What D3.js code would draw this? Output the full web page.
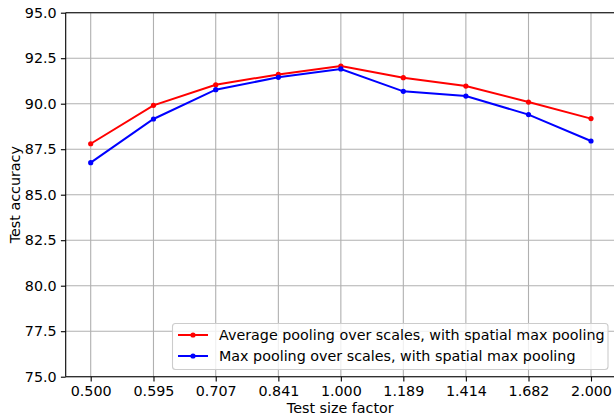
<!DOCTYPE html>
<html><head><meta charset="utf-8">
<script src="https://cdn.jsdelivr.net/npm/d3@7"></script>
<style>body{margin:0;background:#fff}svg{display:block;font-family:"DejaVu Sans",sans-serif}</style>
</head><body>
<svg id="c" width="614" height="416"></svg>
<script>
const factors = [0.5, 0.595, 0.707, 0.841, 1.0, 1.189, 1.414, 1.682, 2.0];
const tickLabels = ["0.500","0.595","0.707","0.841","1.000","1.189","1.414","1.682","2.000"];
const avgPool = [87.80, 89.91, 91.04, 91.61, 92.07, 91.43, 90.97, 90.09, 89.18];
const maxPool = [86.76, 89.16, 90.77, 91.45, 91.91, 90.68, 90.42, 89.40, 87.95];
const yTicks = [75.0, 77.5, 80.0, 82.5, 85.0, 87.5, 90.0, 92.5, 95.0];
const seriesNames = ["Average pooling over scales, with spatial max pooling","Max pooling over scales, with spatial max pooling"];
const seriesColors = ["#ff0000","#0000ff"];

const svg = d3.select("#c");
const L = 65.7, R = 616, T = 12.7, B = 376.7;
const fs = 14.3;
const x = d3.scaleLog().base(2).domain([0.5, 2]).range([L + 25, R - 25]);
const y = d3.scaleLinear().domain([75, 95]).range([B, T]);

// grid
const g = svg.append("g");
g.selectAll(".vg").data(factors).enter().append("line")
  .attr("x1", d => x(d)).attr("x2", d => x(d)).attr("y1", T).attr("y2", B)
  .attr("stroke", "#b0b0b0").attr("stroke-width", 1.1);
g.selectAll(".hg").data(yTicks).enter().append("line")
  .attr("x1", L).attr("x2", 614).attr("y1", d => y(d)).attr("y2", d => y(d))
  .attr("stroke", "#b0b0b0").attr("stroke-width", 1.1);

// series
const data = [avgPool, maxPool];
const line = d3.line().x((d, i) => x(factors[i])).y(d => y(d));
data.forEach((s, k) => {
  svg.append("path").attr("d", line(s)).attr("fill", "none")
    .attr("stroke", seriesColors[k]).attr("stroke-width", 2);
  svg.selectAll(".m" + k).data(s).enter().append("circle")
    .attr("cx", (d, i) => x(factors[i])).attr("cy", d => y(d)).attr("r", 2.6)
    .attr("fill", seriesColors[k]);
});

// spines
svg.append("line").attr("x1", L).attr("x2", 614).attr("y1", T).attr("y2", T).attr("stroke", "#000").attr("stroke-width", 1.1);
svg.append("line").attr("x1", L).attr("x2", L).attr("y1", T).attr("y2", B).attr("stroke", "#000").attr("stroke-width", 1.1);
svg.append("line").attr("x1", L).attr("x2", 614).attr("y1", B).attr("y2", B).attr("stroke", "#000").attr("stroke-width", 1.1);

// axes
const xAxis = d3.axisBottom(x).tickValues(factors).tickFormat((d, i) => tickLabels[i]).tickSize(4.8).tickPadding(4.2);
const ax = svg.append("g").attr("transform", `translate(0,${B})`).call(xAxis);
const yAxis = d3.axisLeft(y).tickValues(yTicks).tickFormat(d3.format(".1f")).tickSize(4.8).tickPadding(4.2);
const ay = svg.append("g").attr("transform", `translate(${L},0)`).call(yAxis);
[ax, ay].forEach(a => {
  a.select(".domain").remove();
  a.selectAll(".tick line").attr("stroke", "#000").attr("stroke-width", 1.1);
  a.selectAll(".tick text").attr("font-size", fs).attr("fill", "#000").attr("font-family", "DejaVu Sans");
});

svg.append("text").attr("x", 340.3).attr("y", 413).attr("text-anchor", "middle")
  .attr("font-size", fs).text("Test size factor");
svg.append("text").attr("transform", `translate(20,${(T + B) / 2}) rotate(-90)`).attr("text-anchor", "middle")
  .attr("font-size", fs).text("Test accuracy");

// legend
const lg = svg.append("g");
lg.append("rect").attr("x", 172.5).attr("y", 323.5).attr("width", 435.5).attr("height", 46)
  .attr("rx", 3).attr("fill", "#fff").attr("fill-opacity", 0.8).attr("stroke", "#cccccc").attr("stroke-width", 1.1);
seriesNames.forEach((n, k) => {
  const yy = 335 + k * 21;
  lg.append("line").attr("x1", 178).attr("x2", 208).attr("y1", yy).attr("y2", yy)
    .attr("stroke", seriesColors[k]).attr("stroke-width", 2);
  lg.append("circle").attr("cx", 193).attr("cy", yy).attr("r", 2.6).attr("fill", seriesColors[k]);
  lg.append("text").attr("x", 219).attr("y", yy + 5).attr("font-size", fs).text(n);
});
</script>
</body></html>
